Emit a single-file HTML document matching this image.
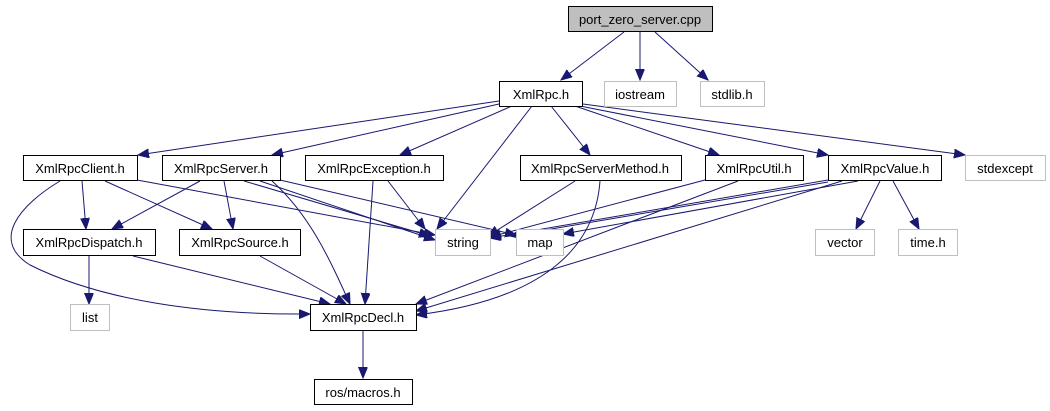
<!DOCTYPE html>
<html><head><meta charset="utf-8"><style>
html,body{margin:0;padding:0;background:#fff;}
svg{display:block;}
text{font-family:"Liberation Sans",sans-serif;font-size:13px;text-anchor:middle;fill:#000;}
.b{fill:#fff;stroke:#000;stroke-width:1;}
.g{fill:#fff;stroke:#bfbfbf;stroke-width:1;}
path{fill:none;stroke:#191970;stroke-width:1;}
</style></head><body>
<svg width="1050" height="411" viewBox="0 0 1050 411">
<defs><marker id="a" markerWidth="12" markerHeight="10" refX="11" refY="4.5" orient="auto" markerUnits="userSpaceOnUse"><polygon points="0,0 11,4.5 0,9" fill="#191970" stroke="#191970"/></marker></defs>
<g marker-end="url(#a)">
<path d="M624,32 L561,80"/>
<path d="M640,32 L640,80"/>
<path d="M655,32 L708,80"/>
<path d="M499,101 L138,155"/>
<path d="M499,104 L272,155"/>
<path d="M512,106 L400,155"/>
<path d="M532,106 L437,229"/>
<path d="M551,106 L590,155"/>
<path d="M575,106 L719,155"/>
<path d="M580,106 L828,155"/>
<path d="M583,104 L965,155"/>
<path d="M60,181 C20,205 -10,240 30,265 C100,300 200,315 310,314"/>
<path d="M82,181 L86,229"/>
<path d="M105,181 L212,229"/>
<path d="M137,180 L435,235"/>
<path d="M200,181 L112,229"/>
<path d="M224,181 L233,229"/>
<path d="M244,181 L430,236"/>
<path d="M260,181 L435,240"/>
<path d="M280,180 L516,235"/>
<path d="M272,181 C310,215 330,260 350,304"/>
<path d="M373,181 L365,304"/>
<path d="M388,181 L425,229"/>
<path d="M575,181 L488,236"/>
<path d="M600,181 C595,250 540,300 416,315"/>
<path d="M705,180 L490,237"/>
<path d="M738,181 L416,304"/>
<path d="M828,180 L490,238"/>
<path d="M828,182 L510,236"/>
<path d="M858,181 L563,234"/>
<path d="M842,181 L416,311"/>
<path d="M880,181 L856,229"/>
<path d="M893,181 L919,229"/>
<path d="M89,256 L89,304"/>
<path d="M133,256 L330,304"/>
<path d="M260,256 L346,304"/>
<path d="M363,330 L363,378"/>
</g>
<rect x="568.5" y="6.5" width="144" height="25" fill="#bfbfbf" stroke="#000"/><text x="640" y="24">port_zero_server.cpp</text>
<rect class="b" x="499.5" y="81.5" width="83" height="25"/><text x="541" y="99">XmlRpc.h</text>
<rect class="g" x="604.5" y="81.5" width="72" height="25"/><text x="640" y="99">iostream</text>
<rect class="g" x="700.5" y="81.5" width="64" height="25"/><text x="732" y="99">stdlib.h</text>
<rect class="b" x="23.5" y="155.5" width="114" height="25"/><text x="80" y="173">XmlRpcClient.h</text>
<rect class="b" x="162.5" y="155.5" width="118" height="25"/><text x="221" y="173">XmlRpcServer.h</text>
<rect class="b" x="305.5" y="155.5" width="138" height="25"/><text x="374" y="173">XmlRpcException.h</text>
<rect class="b" x="520.5" y="155.5" width="161" height="25"/><text x="600" y="173">XmlRpcServerMethod.h</text>
<rect class="b" x="705.5" y="155.5" width="98" height="25"/><text x="754" y="173">XmlRpcUtil.h</text>
<rect class="b" x="828.5" y="155.5" width="113" height="25"/><text x="885" y="173">XmlRpcValue.h</text>
<rect class="g" x="965.5" y="155.5" width="80" height="25"/><text x="1005" y="173">stdexcept</text>
<rect class="b" x="23.5" y="229.5" width="132" height="26"/><text x="89" y="247">XmlRpcDispatch.h</text>
<rect class="b" x="179.5" y="229.5" width="121" height="26"/><text x="240" y="247">XmlRpcSource.h</text>
<rect class="g" x="435.5" y="229.5" width="55" height="26"/><text x="463" y="247">string</text>
<rect class="g" x="516.5" y="229.5" width="47" height="26"/><text x="540" y="247">map</text>
<rect class="g" x="815.5" y="229.5" width="59" height="26"/><text x="845" y="247">vector</text>
<rect class="g" x="898.5" y="229.5" width="59" height="26"/><text x="928" y="247">time.h</text>
<rect class="g" x="70.5" y="304.5" width="39" height="26"/><text x="90" y="322">list</text>
<rect class="b" x="310.5" y="304.5" width="106" height="26"/><text x="363" y="322">XmlRpcDecl.h</text>
<rect class="b" x="314.5" y="379.5" width="98" height="25"/><text x="363" y="397">ros/macros.h</text>
</svg>
</body></html>
